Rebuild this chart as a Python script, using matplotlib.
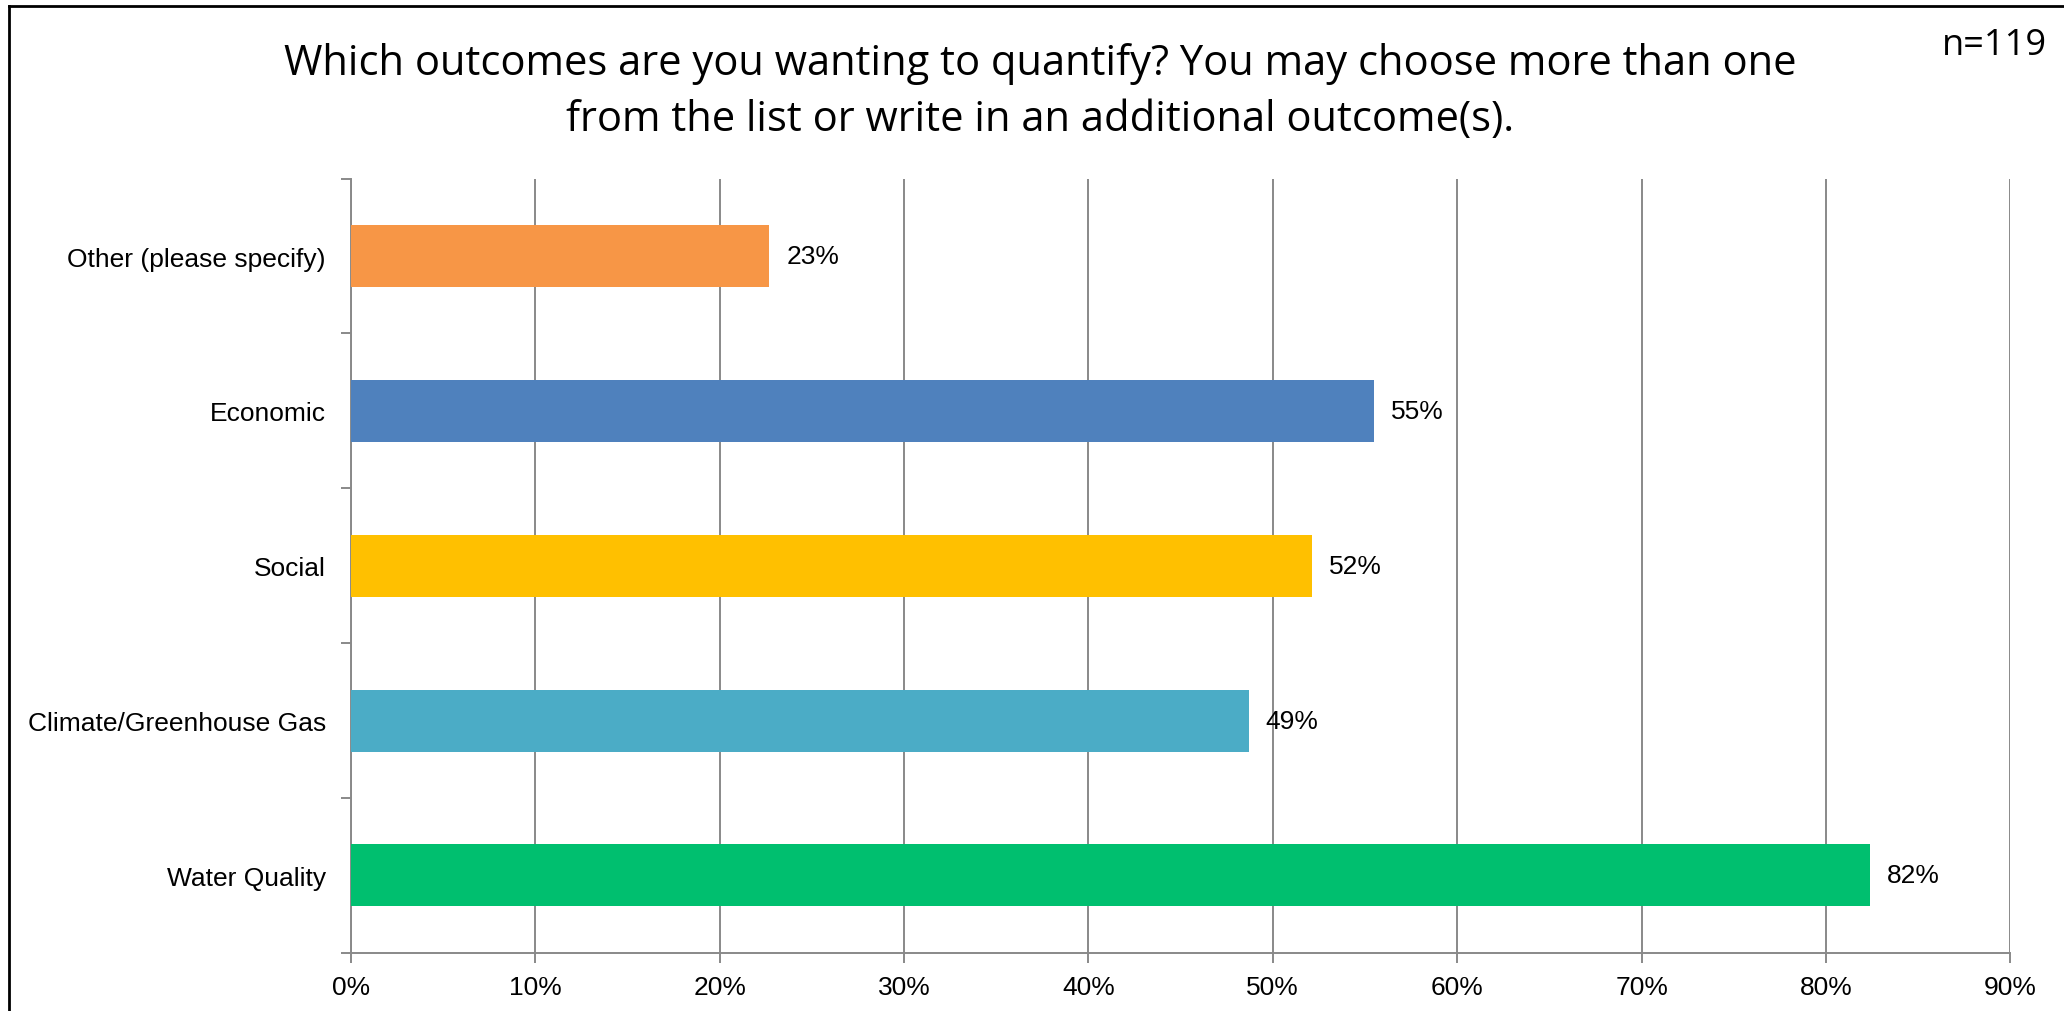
import matplotlib
matplotlib.use("Agg")
import matplotlib.pyplot as plt
from matplotlib.lines import Line2D

categories = ["Water Quality", "Climate/Greenhouse Gas", "Social", "Economic", "Other (please specify)"]
values = [82.4, 48.7, 52.1, 55.5, 22.7]
labels = ["82%", "49%", "52%", "55%", "23%"]
colors = ["#00BF6F", "#4BACC6", "#FFC000", "#4F81BD", "#F79646"]
xticks = [0, 10, 20, 30, 40, 50, 60, 70, 80, 90]
xtick_labels = [f"{t}%" for t in xticks]
title = "Which outcomes are you wanting to quantify? You may choose more than one\nfrom the list or write in an additional outcome(s)."
note = "n=119"

fig = plt.figure(figsize=(20.64, 10.12), dpi=100)
ax = fig.add_axes([0.170, 0.0575, 0.804, 0.765])

ypos = list(range(len(categories)))
ax.barh(ypos, values, height=0.4, color=colors, zorder=3)
for y, v, l in zip(ypos, values, labels):
    ax.annotate(l, (v, y), xytext=(17, 0), textcoords="offset pixels",
                va="center", ha="left", fontsize=19, family="Liberation Sans", color="black")

ax.set_xlim(0, 90)
ax.set_ylim(-0.5, 4.5)
ax.set_xticks(xticks)
ax.set_xticklabels(xtick_labels, fontsize=19, family="Liberation Sans")
ax.set_yticks(ypos)
ax.set_yticklabels(categories, fontsize=19, family="Liberation Sans")
ax.tick_params(axis="y", length=0, pad=18)
ax.tick_params(axis="x", length=7, width=1.4, color="#898989", pad=9)
# category boundary ticks
ax.set_yticks([y - 0.5 for y in range(len(categories) + 1)], minor=True)
ax.tick_params(axis="y", which="minor", length=7, width=1.4, color="#898989")

ax.grid(axis="x", color="#898989", linewidth=1.4, zorder=0)
for s in ["top", "right"]:
    ax.spines[s].set_visible(False)
for s in ["left", "bottom"]:
    ax.spines[s].set_color("#898989")
    ax.spines[s].set_linewidth(1.4)

fig.text(0.504, 0.909, title, ha="center", va="center", fontsize=30, family="Open Sans",
         linespacing=1.42)
fig.text(0.992, 0.955, note, ha="right", va="center", fontsize=26, family="Open Sans")

# chart border (top and left)
fig.add_artist(Line2D([0.0045, 1.0], [0.993, 0.993], color="black", linewidth=2, transform=fig.transFigure))
fig.add_artist(Line2D([0.0045, 0.0045], [0.0, 0.993], color="black", linewidth=2, transform=fig.transFigure))

fig.savefig("out.png", dpi=100)
